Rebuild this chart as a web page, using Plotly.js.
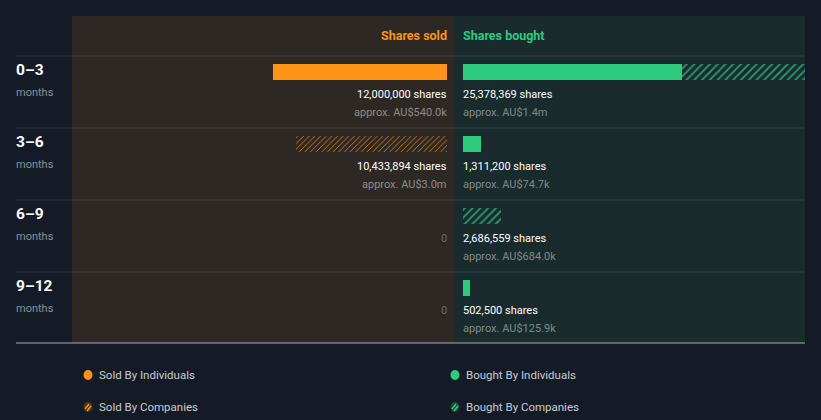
<!DOCTYPE html>
<html>
<head>
<meta charset="utf-8">
<script src="https://cdn.plot.ly/plotly-3.0.1.min.js"></script>
<style>
  html, body { margin: 0; padding: 0; background: #151B26; }
  #chart { width: 821px; height: 420px; }
</style>
</head>
<body>
<div id="chart"></div>
<script>
// ---- Data ----
const periods = ['0\u20133', '3\u20136', '6\u20139', '9\u201312'];
const soldByIndividuals = [12000000, 0, 0, 0];
const soldByCompanies = [0, 10433894, 0, 0];
const boughtByIndividuals = [15530000, 1311200, 0, 502500];
const boughtByCompanies = [9848369, 0, 2686559, 0];
const soldValue = ['approx. AU$540.0k', 'approx. AU$3.0m', null, null];
const boughtValue = ['approx. AU$1.4m', 'approx. AU$74.7k', 'approx. AU$684.0k', 'approx. AU$125.9k'];
const legendLabels = ['Sold By Individuals', 'Bought By Individuals', 'Sold By Companies', 'Bought By Companies'];

// ---- Style ----
const W = 821, H = 420;
const X = px => px / W;
const Y = py => 1 - py / H;
const ORANGE = '#FF9316';
const GREEN = '#2DCB80';
const GREEN_HATCH = '#27946A';
const FONT = 'Roboto, sans-serif';

const fmt = n => n.toLocaleString('en-US');

const traces = [
  { type: 'bar', orientation: 'h', name: legendLabels[0], y: periods, x: soldByIndividuals,
    xaxis: 'x', yaxis: 'y', width: 0.222, marker: { color: ORANGE, line: { width: 0 } }, hoverinfo: 'skip' },
  { type: 'bar', orientation: 'h', name: legendLabels[2], y: periods, x: soldByCompanies,
    xaxis: 'x', yaxis: 'y', width: 0.222,
    marker: { color: ORANGE, line: { width: 0 }, pattern: { shape: '/', size: 4, solidity: 0.18, fgcolor: ORANGE } }, hoverinfo: 'skip' },
  { type: 'bar', orientation: 'h', name: legendLabels[1], y: periods, x: boughtByIndividuals,
    xaxis: 'x2', yaxis: 'y', width: 0.222, marker: { color: GREEN, line: { width: 0 } }, hoverinfo: 'skip' },
  { type: 'bar', orientation: 'h', name: legendLabels[3], y: periods, x: boughtByCompanies,
    xaxis: 'x2', yaxis: 'y', width: 0.222,
    marker: { color: GREEN_HATCH, line: { width: 0 }, pattern: { shape: '/', size: 5.5, solidity: 0.35, fgcolor: GREEN_HATCH } }, hoverinfo: 'skip' }
];

const annotations = [];
const shapes = [];
const ann = o => annotations.push(Object.assign({ showarrow: false, borderpad: 0, borderwidth: 0 }, o));

// panels
shapes.push({ type: 'rect', xref: 'paper', yref: 'paper', x0: X(72), x1: X(455), y0: Y(343), y1: Y(16),
  fillcolor: '#2D2823', line: { width: 0 }, layer: 'below' });
shapes.push({ type: 'rect', xref: 'paper', yref: 'paper', x0: X(455), x1: X(805), y0: Y(343), y1: Y(16),
  fillcolor: '#192B2D', line: { width: 0 }, layer: 'below' });
// separators
[56, 128, 200, 272].forEach(py => {
  shapes.push({ type: 'line', xref: 'paper', yref: 'paper', x0: X(16), x1: X(805), y0: Y(py), y1: Y(py),
    line: { color: 'rgba(255,255,255,0.12)', width: 1 }, layer: 'below' });
});
shapes.push({ type: 'line', xref: 'paper', yref: 'paper', x0: X(16), x1: X(805), y0: Y(343), y1: Y(343),
  line: { color: '#A3ABB3', width: 1 }, layer: 'above' });

// header
ann({ xref: 'paper', yref: 'paper', x: X(447), y: Y(35), xanchor: 'right', yanchor: 'middle',
  text: '<b>Shares sold</b>', font: { family: FONT, size: 12.5, color: ORANGE } });
ann({ xref: 'paper', yref: 'paper', x: X(463), y: Y(35), xanchor: 'left', yanchor: 'middle',
  text: '<b>Shares bought</b>', font: { family: FONT, size: 12.5, color: GREEN } });

periods.forEach((p, i) => {
  // row labels
  ann({ xref: 'paper', yref: 'y', x: X(16), y: p, yshift: 2, xanchor: 'left', yanchor: 'middle',
    text: '<b>' + p + '</b>', font: { family: FONT, size: 15.5, color: '#FFFFFF' } });
  ann({ xref: 'paper', yref: 'y', x: X(16), y: p, yshift: -20, xanchor: 'left', yanchor: 'middle',
    text: 'months', font: { family: FONT, size: 11, color: '#8C9199' } });

  const sold = soldByIndividuals[i] + soldByCompanies[i];
  if (sold > 0) {
    ann({ xref: 'x', yref: 'y', x: 0, y: p, yshift: -22, xanchor: 'right', yanchor: 'middle',
      text: fmt(sold) + ' shares', font: { family: FONT, size: 11, color: '#FFFFFF' } });
    ann({ xref: 'x', yref: 'y', x: 0, y: p, yshift: -40, xanchor: 'right', yanchor: 'middle',
      text: soldValue[i], font: { family: FONT, size: 11, color: '#8E8C89' } });
  } else {
    ann({ xref: 'x', yref: 'y', x: 0, y: p, yshift: -22, xanchor: 'right', yanchor: 'middle',
      text: '0', font: { family: FONT, size: 11, color: '#6E6B67' } });
  }
  const bought = boughtByIndividuals[i] + boughtByCompanies[i];
  if (bought > 0) {
    ann({ xref: 'x2', yref: 'y', x: 0, y: p, yshift: -22, xanchor: 'left', yanchor: 'middle',
      text: fmt(bought) + ' shares', font: { family: FONT, size: 11, color: '#FFFFFF' } });
    ann({ xref: 'x2', yref: 'y', x: 0, y: p, yshift: -40, xanchor: 'left', yanchor: 'middle',
      text: boughtValue[i], font: { family: FONT, size: 11, color: '#7F8B8B' } });
  }
});

// legend (manual)
const legendPos = [[88, 375, ORANGE, false], [455, 375, GREEN, false], [88, 407, ORANGE, true], [455, 407, GREEN, true]];
legendLabels.forEach((lab, k) => {
  const [cx, cy, col, hatched] = legendPos[k];
  shapes.push({ type: 'circle', xref: 'paper', yref: 'paper', x0: X(cx - 4.5), x1: X(cx + 4.5), y0: Y(cy + 5), y1: Y(cy - 5),
    fillcolor: hatched ? (col === ORANGE ? '#4A3520' : '#1E4A3A') : col, line: { width: 0 } });
  if (hatched) {
    [[-3, 2, 1, -3], [-1, 4, 3, -1]].forEach(([a, b, c, d]) => {
      shapes.push({ type: 'line', xref: 'paper', yref: 'paper', x0: X(cx + a), y0: Y(cy + b), x1: X(cx + c), y1: Y(cy + d),
        line: { color: col, width: 1.5 } });
    });
  }
  ann({ xref: 'paper', yref: 'paper', x: X(cx + 11), y: Y(cy), xanchor: 'left', yanchor: 'middle',
    text: lab, font: { family: FONT, size: 11.5, color: '#C9CCD1' } });
});

const hiddenAxis = { showgrid: false, zeroline: false, showticklabels: false, showline: false, ticks: '', fixedrange: true };

const layout = {
  width: W, height: H,
  margin: { l: 0, r: 0, t: 0, b: 0, pad: 0 },
  paper_bgcolor: '#151B26',
  plot_bgcolor: 'rgba(0,0,0,0)',
  barmode: 'stack',
  showlegend: false,
  xaxis: Object.assign({}, hiddenAxis, { domain: [X(72), X(447)], range: [(447 - 72) / 14.5e-6, 0] }),
  xaxis2: Object.assign({}, hiddenAxis, { domain: [X(463), X(805)], range: [0, (805 - 463) / 14.1e-6], anchor: 'y' }),
  yaxis: Object.assign({}, hiddenAxis, { type: 'category', domain: [0, 1], range: [(420 - 72) / 72, -1] }),
  shapes: shapes,
  annotations: annotations
};

Plotly.newPlot('chart', traces, layout, { staticPlot: true, displayModeBar: false });
</script>
</body>
</html>
